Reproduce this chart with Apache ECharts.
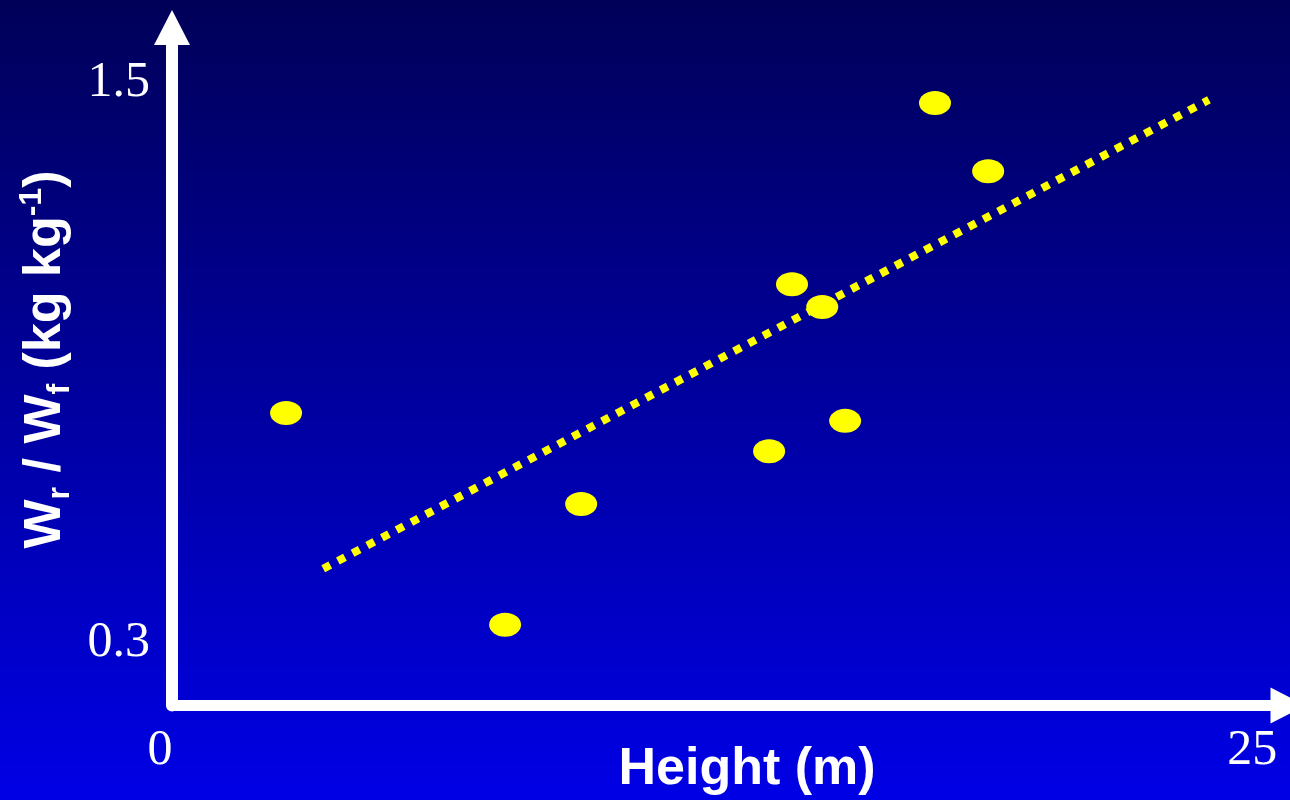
<!DOCTYPE html>
<html>
<head>
<meta charset="utf-8">
<script src="https://cdn.jsdelivr.net/npm/echarts@6/dist/echarts.min.js"></script>
<style>
  html, body { margin: 0; padding: 0; }
  #main { width: 1290px; height: 800px; }
</style>
</head>
<body>
<div id="main"></div>
<script>
// data
var heights = [2.64, 7.71, 9.47, 13.82, 14.35, 15.05, 15.58, 17.66, 18.89];
var ratios = [0.793, 0.339, 0.598, 0.711, 1.069, 1.020, 0.776, 1.457, 1.311];
// fitted line end points
var trendX = [3.5, 24.0];
var trendY = [0.459, 1.464];
// tick labels
var xTicks = [0, 25];
var yTicks = [0.3, 1.5];

var chart = echarts.init(document.getElementById('main'));

var points = heights.map(function (h, i) { return [h, ratios[i]]; });
var trend = trendX.map(function (x, i) { return [x, trendY[i]]; });

var option = {
  backgroundColor: {
    type: 'linear', x: 0, y: 0, x2: 0, y2: 1,
    colorStops: [
      { offset: 0, color: '#000058' },
      { offset: 1, color: '#0000e6' }
    ]
  },
  animation: false,
  grid: { left: 172, right: 2, top: 27.5, bottom: 94.5, containLabel: false, outerBoundsMode: 'none' },
  xAxis: {
    type: 'value',
    min: 0,
    max: 25.83,
    name: 'Height (m)',
    nameLocation: 'middle',
    nameGap: 38,
    nameMoveOverlap: false,
    nameTextStyle: {
      color: '#fff', fontFamily: 'Liberation Sans, Arial', fontWeight: 'bold', fontSize: 52,
      padding: [0, 0, 0, 34]
    },
    axisLine: {
      lineStyle: { color: '#fff', width: 11 },
      symbol: ['none', 'triangle'],
      symbolSize: [36, 35]
    },
    axisTick: { show: false },
    splitLine: { show: false },
    axisLabel: {
      customValues: xTicks,
      color: '#fff',
      fontFamily: 'Liberation Serif, Times New Roman',
      fontSize: 50,
      margin: 20,
      formatter: function (v) { return v === 0 ? '{z|0}' : String(v); },
      rich: { z: { fontFamily: 'Liberation Serif', fontSize: 50, color: '#fff', padding: [0, 24, 0, 0] } }
    }
  },
  yAxis: {
    type: 'value',
    min: 0.166,
    max: 1.619,
    name: '{m|W}{s|r}{m| / W}{s|f}{m| (kg kg}{p|-1}{m|)}',
    nameLocation: 'middle',
    nameRotate: 90,
    nameGap: 96,
    nameMoveOverlap: false,
    nameTextStyle: {
      color: '#fff', fontFamily: 'Liberation Sans, Arial', fontWeight: 'bold', fontSize: 52,
      padding: [0, 0, 0, 14],
      rich: {
        m: { color: '#fff', fontFamily: 'Liberation Sans', fontWeight: 'bold', fontSize: 52, lineHeight: 60, verticalAlign: 'middle' },
        s: { color: '#fff', fontFamily: 'Liberation Sans', fontWeight: 'bold', fontSize: 32, lineHeight: 60, verticalAlign: 'bottom' },
        p: { color: '#fff', fontFamily: 'Liberation Sans', fontWeight: 'bold', fontSize: 32, lineHeight: 60, verticalAlign: 'top' }
      }
    },
    axisLine: {
      lineStyle: { color: '#fff', width: 12 },
      symbol: ['none', 'triangle'],
      symbolSize: [36, 35]
    },
    axisTick: { show: false },
    splitLine: { show: false },
    axisLabel: {
      customValues: yTicks,
      color: '#fff',
      fontFamily: 'Liberation Serif, Times New Roman',
      fontSize: 50,
      margin: 22
    }
  },
  series: [
    {
      type: 'line',
      data: trend,
      symbol: 'none',
      lineStyle: { color: '#ffff00', width: 8, type: [8, 8.6], cap: 'butt' },
      z: 2
    },
    {
      type: 'scatter',
      data: points,
      symbol: 'circle',
      symbolSize: [32, 24],
      itemStyle: { color: '#ffff00', opacity: 1 },
      z: 3
    }
  ]
};

chart.setOption(option);
</script>
</body>
</html>
